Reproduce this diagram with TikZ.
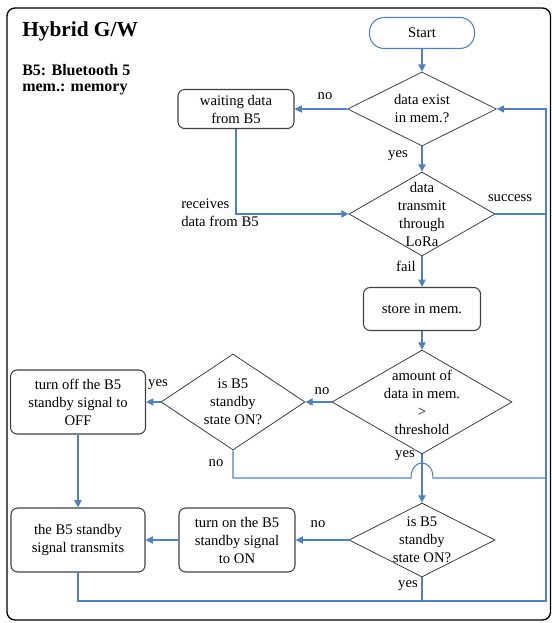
\documentclass[tikz,border=0pt]{standalone}
\usepackage{fontspec}
\setmainfont{Liberation Serif}
\usetikzlibrary{shapes.geometric}
\usetikzlibrary{arrows.meta}

\definecolor{flowblue}{RGB}{79,129,189}
\definecolor{edgegray}{RGB}{64,64,64}

\tikzset{
  flow/.style={draw=flowblue, line width=0.8pt, -{Triangle[length=5.5pt,width=5.5pt]}},
  wire/.style={draw=flowblue, line width=0.8pt},
  procbox/.style={rectangle, rounded corners=5pt, draw=edgegray, line width=0.8pt, align=center, inner sep=0pt, font=\fontsize{11}{13.5}\selectfont},
  decision/.style={diamond, draw=edgegray, line width=0.6pt, inner sep=0pt},
  dtext/.style={align=center, inner sep=0pt, font=\fontsize{11}{13.5}\selectfont},
  lbl/.style={inner sep=0.75pt, font=\fontsize{11}{13.5}\selectfont},
}

\begin{document}
\begin{tikzpicture}[x=0.75pt,y=0.75pt,yscale=-1,xscale=1]
\useasboundingbox (0,0) rectangle (551,623);

%Shape: Frame
\draw[line width=1pt, rounded corners=6pt] (7,8) rectangle (550.5,620);

% Text Node
\node[anchor=west, inner sep=0pt, font=\fontsize{16}{19}\selectfont\bfseries] (title) at (22,31) {Hybrid G/W};
% Text Node
\node[anchor=west, inner sep=0pt, font=\fontsize{12}{14}\selectfont\bfseries] (abbrB) at (22,70) {B5: Bluetooth 5};
% Text Node
\node[anchor=west, inner sep=0pt, font=\fontsize{12}{14}\selectfont\bfseries] (abbrM) at (22,89) {mem.: memory};

%Shape: Terminal
\node[draw=flowblue, line width=0.8pt, rounded corners=11pt, minimum width=78.75pt, minimum height=23.25pt, font=\fontsize{11}{13.5}\selectfont] (start) at (422,33) {Start};

%Shape: Diamond
\node[decision, minimum width=111.75pt, minimum height=55.5pt, label={[dtext]center:data exist\\in mem.?}] (exist) at (422,109) {};
%Shape: Diamond
\node[decision, minimum width=109.5pt, minimum height=63pt, label={[dtext]center:data\\transmit\\through\\LoRa}] (lora) at (422,214) {};
%Shape: Diamond
\node[decision, minimum width=135pt, minimum height=78pt, label={[dtext]center:amount of\\data in mem.\\>\\threshold}] (amount) at (422,402) {};
%Shape: Diamond
\node[decision, minimum width=108pt, minimum height=72pt, label={[dtext]center:is B5\\standby\\state ON?}] (stbyA) at (233,402) {};
%Shape: Diamond
\node[decision, minimum width=109.5pt, minimum height=55.5pt, label={[dtext]center:is B5\\standby\\state ON?}] (stbyB) at (422,540) {};

%Shape: Rounded Rect
\node[procbox, minimum width=87pt, minimum height=29.25pt] (wait) at (236,109) {waiting data\\from B5};
%Shape: Rounded Rect
\node[procbox, minimum width=87.75pt, minimum height=32.25pt] (store) at (422,309) {store in mem.};
%Shape: Rounded Rect
\node[procbox, minimum width=101.25pt, minimum height=48pt] (off) at (78,402) {turn off the B5\\standby signal to\\OFF};
%Shape: Rounded Rect
\node[procbox, minimum width=87pt, minimum height=48pt] (on) at (237,540) {turn on the B5\\standby signal\\to ON};
%Shape: Rounded Rect
\node[procbox, minimum width=100.5pt, minimum height=48pt] (sent) at (78,540) {the B5 standby\\signal transmits};

% Connectors
\coordinate (busTop) at (546,109);
\coordinate (busBot) at (546,601);
\draw[flow] (start) -- (exist);
\draw[flow] (exist.west) -- (wait.east);
\draw[flow] (exist) -- (lora);
\draw[flow] (wait.south) |- (lora.west);
\draw[flow] (lora) -- (store);
\draw[flow] (store) -- (amount);
\draw[flow] (amount.west) -- (stbyA.east);
\draw[flow] (stbyA.west) -- (off.east);
\draw[flow] (off) -- (sent);
\draw[flow] (amount) -- (stbyB);
\draw[flow] (stbyB.west) -- (on.east);
\draw[flow] (on.west) -- (sent.east);
\draw[flow] (sent.south) |- (busBot) -- (busTop) -- (exist.east);
\draw[wire] (stbyB.south) -- (stbyB.south |- busBot);
\draw[wire] (lora.east) -- (lora.east -| busTop);
\draw[wire] (stbyA.south) |- (411,478) .. controls (411,458) and (433,458) .. (433,478) -- (busTop |- 0,478);

% Text Node
\node[lbl] (noA) at (325,96) {no};
% Text Node
\node[lbl] (yesA) at (398,156) {yes};
% Text Node
\node[lbl, anchor=west, align=left] (recv) at (180,213) {receives\\data from B5};
% Text Node
\node[lbl] (succ) at (510,198) {success};
% Text Node
\node[lbl] (fail) at (406,266) {fail};
% Text Node
\node[lbl] (noB) at (322,391) {no};
% Text Node
\node[lbl] (yesB) at (158,385) {yes};
% Text Node
\node[lbl] (noC) at (216,463) {no};
% Text Node
\node[lbl] (yesC) at (405,456) {yes};
% Text Node
\node[lbl] (noD) at (318,524) {no};
% Text Node
\node[lbl] (yesD) at (408,586) {yes};

\end{tikzpicture}
\end{document}
